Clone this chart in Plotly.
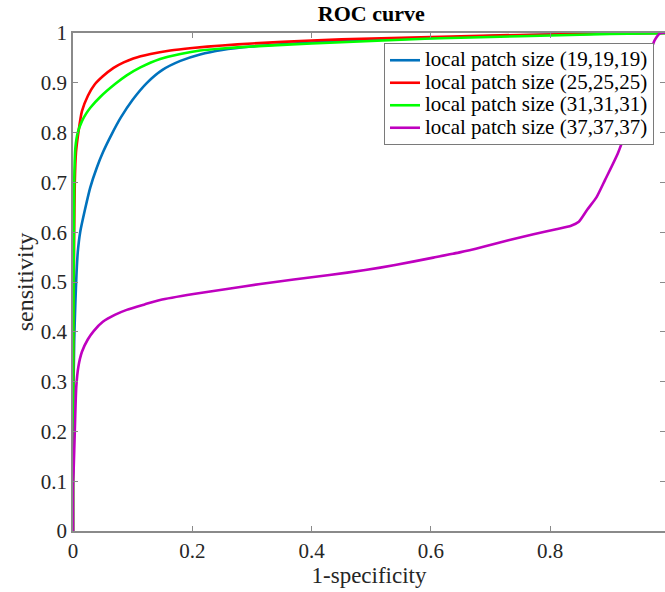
import plotly.graph_objects as go

# ---- data ----
blue_x = [0, 0.0, 0.002, 0.004, 0.006, 0.008, 0.012, 0.02, 0.029, 0.04, 0.05, 0.065, 0.08, 0.1,
          0.124, 0.15, 0.18, 0.213, 0.25, 0.3, 0.4, 0.5, 0.6, 0.7, 0.8, 0.9, 1.0]
blue_y = [0, 0.2, 0.38, 0.46, 0.52, 0.56, 0.6, 0.645, 0.69, 0.73, 0.76, 0.797, 0.83, 0.866,
          0.9, 0.926, 0.944, 0.957, 0.966, 0.973, 0.981, 0.986, 0.990, 0.994, 0.997, 0.999, 1.0]

red_x = [0, 0.0, 0.001, 0.002, 0.003, 0.005, 0.009, 0.015, 0.025, 0.036, 0.05, 0.068, 0.085,
         0.101, 0.13, 0.163, 0.2, 0.25, 0.3, 0.4, 0.5, 0.6, 0.7, 0.8, 0.9, 1.0]
red_y = [0, 0.25, 0.45, 0.6, 0.7, 0.76, 0.8, 0.843, 0.874, 0.896, 0.913, 0.93, 0.941,
         0.949, 0.958, 0.965, 0.970, 0.975, 0.979, 0.985, 0.989, 0.992, 0.995, 0.997, 0.999, 1.0]

green_x = [0, 0.0, 0.001, 0.002, 0.004, 0.008, 0.015, 0.022, 0.029, 0.046, 0.071, 0.09, 0.113,
           0.146, 0.18, 0.213, 0.25, 0.3, 0.4, 0.5, 0.6, 0.7, 0.8, 0.9, 1.0]
green_y = [0, 0.2, 0.5, 0.7, 0.77, 0.8, 0.823, 0.838, 0.85, 0.872, 0.898, 0.915, 0.931,
           0.948, 0.958, 0.965, 0.969, 0.973, 0.979, 0.984, 0.989, 0.992, 0.995, 0.998, 1.0]

purple_x = [0, 0.0, 0.001, 0.003, 0.0055, 0.009, 0.015, 0.025, 0.035, 0.05, 0.07, 0.09, 0.12,
            0.146, 0.202, 0.258, 0.314, 0.37, 0.43, 0.49, 0.54, 0.604, 0.65, 0.688, 0.73,
            0.772, 0.81, 0.835, 0.848, 0.862, 0.878, 0.892, 0.914, 0.94, 0.96, 0.975, 0.985, 1.0]
purple_y = [0, 0.1, 0.12, 0.2, 0.29, 0.33, 0.36, 0.385, 0.402, 0.42, 0.434, 0.444, 0.455,
            0.464, 0.476, 0.486, 0.496, 0.505, 0.514, 0.524, 0.534, 0.549, 0.56, 0.571, 0.584,
            0.596, 0.606, 0.613, 0.621, 0.645, 0.671, 0.705, 0.76, 0.85, 0.93, 0.985, 1.0, 1.0]

series_names = ["local patch size (19,19,19)", "local patch size (25,25,25)",
                "local patch size (31,31,31)", "local patch size (37,37,37)"]
series_colors = ["#0072BD", "#FF0000", "#00FF00", "#BF00BF"]

x_ticks = [0, 0.2, 0.4, 0.6, 0.8, 1]
x_tick_labels = ["0", "0.2", "0.4", "0.6", "0.8", "1"]
y_ticks = [0, 0.1, 0.2, 0.3, 0.4, 0.5, 0.6, 0.7, 0.8, 0.9, 1]
y_tick_labels = ["0", "0.1", "0.2", "0.3", "0.4", "0.5", "0.6", "0.7", "0.8", "0.9", "1"]

FONT = "Liberation Serif, Times New Roman, serif"
AX = "#8a8a8a"

fig = go.Figure()
for xs, ys, name, col in zip([blue_x, red_x, green_x, purple_x],
                             [blue_y, red_y, green_y, purple_y],
                             series_names, series_colors):
    fig.add_trace(go.Scatter(x=xs, y=ys, mode="lines",
                             name='<span style="font-size:21px">' + name + '</span>',
                             line=dict(color=col, width=2.6, shape="spline", smoothing=0.6)))

W, H = 665, 592
left, top, bottom = 73, 33, 61
plot_w = W - left
plot_h = H - top - bottom
unit_px = 596.5  # pixels for 1.0 on x
x_max = plot_w / unit_px

fig.update_layout(
    width=W, height=H,
    margin=dict(l=left, r=0, t=top, b=bottom, pad=0),
    paper_bgcolor="white", plot_bgcolor="white",
    font=dict(family=FONT, size=21, color="#262626"),
    title=dict(text="<b>ROC curve</b>", x=(left + unit_px / 2) / W, xanchor="center",
               y=1 - 13 / H, yanchor="middle", font=dict(family=FONT, size=22, color="#000000")),
    xaxis=dict(range=[0, x_max], tickvals=x_ticks, ticktext=x_tick_labels,
               ticks="inside", ticklen=5, tickcolor=AX, showline=True, linecolor=AX,
               linewidth=1.5, mirror="ticks", showgrid=False, zeroline=False,
               title=dict(text="1-specificity", standoff=5, font=dict(size=23)),
               tickfont=dict(size=21)),
    yaxis=dict(range=[0, 1], tickvals=y_ticks, ticktext=y_tick_labels,
               ticks="inside", ticklen=5, tickcolor=AX, showline=True, linecolor=AX,
               linewidth=1.5, mirror=False, showgrid=False, zeroline=False,
               title=dict(text="sensitivity", standoff=0, font=dict(size=24)),
               tickfont=dict(size=21)),
    yaxis2=dict(range=[0, 1], tickvals=y_ticks, overlaying="y", side="right", anchor="x",
                ticks="inside", ticklen=5, tickcolor=AX, showline=False,
                showticklabels=False, showgrid=False, zeroline=False),
    legend=dict(x=(384 - left) / plot_w, y=(531 - 43) / plot_h, xanchor="left", yanchor="top",
                bgcolor="white", bordercolor="#7a7a7a", borderwidth=1,
                font=dict(family=FONT, size=15.0, color="#000000"),
                tracegroupgap=0, itemwidth=30),
)
fig.add_trace(go.Scatter(x=[0], y=[0], yaxis="y2", mode="markers", showlegend=False,
                         marker=dict(opacity=0), hoverinfo="skip"))

fig.write_html("out.html")
